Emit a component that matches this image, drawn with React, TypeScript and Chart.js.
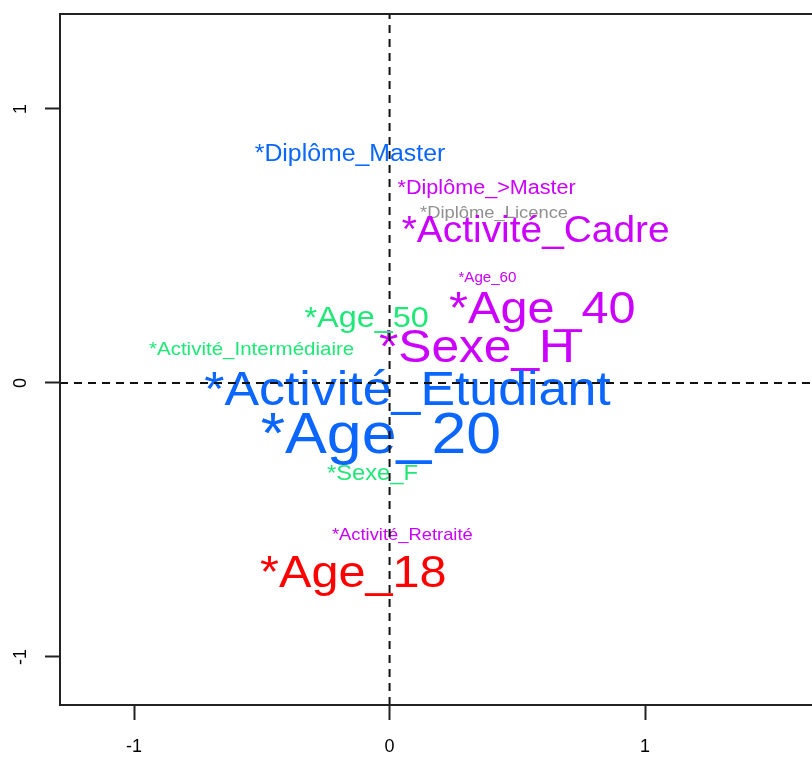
import React, { useEffect, useRef } from "react";
import { Chart, registerables } from "chart.js";

Chart.register(...registerables);

// ---- data ----
const LABELS = [
  "*Diplôme_Master",
  "*Diplôme_>Master",
  "*Diplôme_Licence",
  "*Activité_Cadre",
  "*Age_60",
  "*Age_40",
  "*Sexe_H",
  "*Age_50",
  "*Activité_Intermédiaire",
  "*Activité_Etudiant",
  "*Age_20",
  "*Sexe_F",
  "*Activité_Retraité",
  "*Age_18",
];
const X_VALUES = [-0.155, 0.38, 0.409, 0.572, 0.383, 0.598, 0.342, -0.09, -0.54, 0.07, -0.034, -0.067, 0.05, -0.142];
const Y_VALUES = [0.842, 0.716, 0.626, 0.563, 0.388, 0.277, 0.138, 0.245, 0.127, -0.018, -0.181, -0.325, -0.551, -0.686];

const X_TICKS = [-1, 0, 1];
const Y_TICKS = [-1, 0, 1];
const X_MIN = -1.29;
const X_MAX = 1.72;
const Y_MIN = -1.1752;
const Y_MAX = 1.3467;

// ---- styles ----
const BLUE = "#0a66ff";
const MAGENTA = "#cc00ff";
const GREEN = "#20e878";
const GRAY = "#909090";
const RED = "#ff0000";
const LABEL_COLORS = [BLUE, MAGENTA, GRAY, MAGENTA, MAGENTA, MAGENTA, MAGENTA, GREEN, GREEN, BLUE, BLUE, GREEN, MAGENTA, RED];
const LABEL_SIZES = [23, 20, 17, 36, 14, 45, 46, 30, 19, 48, 58, 22, 17, 45];
const FONT = '"Liberation Sans", Arial, Helvetica, sans-serif';
const STRETCH = 1.08;

const labelPlugin = {
  id: "textLabels",
  beforeDatasetsDraw(chart: any) {
    const { ctx, scales } = chart;
    const xs = scales.x;
    const ys = scales.y;
    ctx.save();
    LABELS.forEach((t, i) => {
      const px = xs.getPixelForValue(X_VALUES[i]);
      const py = ys.getPixelForValue(Y_VALUES[i]);
      const fs = LABEL_SIZES[i];
      ctx.font = `${fs}px ${FONT}`;
      ctx.fillStyle = LABEL_COLORS[i];
      ctx.textAlign = "center";
      ctx.textBaseline = "alphabetic";
      ctx.save();
      ctx.translate(px, py + fs * 0.358);
      ctx.scale(STRETCH, 1);
      ctx.fillText(t, 0, 0);
      ctx.restore();
    });
    ctx.restore();
  },
};

const boxPlugin = {
  id: "plotBox",
  afterDraw(chart: any) {
    const { ctx, chartArea } = chart;
    ctx.save();
    ctx.strokeStyle = "#222";
    ctx.lineWidth = 2;
    ctx.strokeRect(chartArea.left, chartArea.top, chartArea.right - chartArea.left, chartArea.bottom - chartArea.top);
    ctx.restore();
  },
};

const zeroPad = (s: any) => {
  s.paddingTop = 0;
  s.paddingBottom = 0;
  s.paddingLeft = 0;
  s.paddingRight = 0;
};

export default function App() {
  const ref = useRef<HTMLCanvasElement | null>(null);

  useEffect(() => {
    if (!ref.current) return;
    const chart = new Chart(ref.current, {
      type: "scatter",
      data: {
        datasets: [
          {
            data: X_VALUES.map((x, i) => ({ x, y: Y_VALUES[i] })),
            pointRadius: 0,
            showLine: false,
          },
          {
            data: [
              { x: X_MIN, y: 0 },
              { x: X_MAX, y: 0 },
            ],
            showLine: true,
            borderColor: "#111",
            borderWidth: 2,
            borderDash: [8, 6],
            pointRadius: 0,
          },
          {
            data: [
              { x: 0, y: Y_MIN },
              { x: 0, y: Y_MAX },
            ],
            showLine: true,
            borderColor: "#111",
            borderWidth: 2,
            borderDash: [8, 6],
            pointRadius: 0,
          },
        ],
      },
      options: {
        animation: false,
        responsive: false,
        devicePixelRatio: 1,
        events: [],
        layout: { padding: { left: 0, top: 14, right: 11, bottom: 0 } },
        plugins: { legend: { display: false }, tooltip: { enabled: false } },
        scales: {
          x: {
            type: "linear",
            min: X_MIN,
            max: X_MAX,
            afterBuildTicks: (s: any) => {
              s.ticks = X_TICKS.map((v) => ({ value: v }));
            },
            afterFit: (s: any) => {
              s.height = 53;
              zeroPad(s);
            },
            border: { display: false },
            grid: {
              drawOnChartArea: false,
              drawTicks: true,
              tickLength: 15,
              tickWidth: 2,
              tickColor: "#222",
            },
            ticks: {
              color: "#000",
              padding: 16,
              font: { family: FONT, size: 18 },
            },
          },
          y: {
            type: "linear",
            min: Y_MIN,
            max: Y_MAX,
            afterBuildTicks: (s: any) => {
              s.ticks = Y_TICKS.map((v) => ({ value: v }));
            },
            afterFit: (s: any) => {
              s.width = 60;
              zeroPad(s);
            },
            border: { display: false },
            grid: {
              drawOnChartArea: false,
              drawTicks: true,
              tickLength: 15,
              tickWidth: 2,
              tickColor: "#222",
            },
            ticks: {
              color: "#000",
              padding: 16,
              minRotation: 90,
              maxRotation: 90,
              crossAlign: "center",
              font: { family: FONT, size: 18 },
            },
          },
        },
      },
      plugins: [labelPlugin, boxPlugin],
    } as any);
    return () => chart.destroy();
  }, []);

  return (
    <div
      style={{
        position: "absolute",
        left: 0,
        top: 0,
        width: 812,
        height: 758,
        overflow: "hidden",
        background: "#fff",
      }}
    >
      <canvas ref={ref} width={840} height={758} style={{ display: "block", width: 840, height: 758 }} />
    </div>
  );
}
